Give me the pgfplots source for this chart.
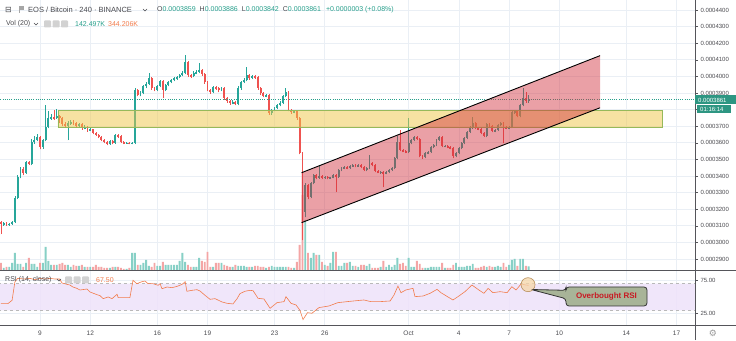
\documentclass[border=0pt]{standalone}
\usepackage{pgfplots}
\pgfplotsset{compat=1.18}
\usepackage{pgfplotstable}
\usepackage{fontspec}
\setmainfont{Liberation Sans}
\newfontfamily\dejavu{DejaVu Sans}
\definecolor{upc}{RGB}{38,166,154}
\definecolor{dnc}{RGB}{239,83,80}
\definecolor{vup}{RGB}{135,208,198}
\definecolor{vdn}{RGB}{244,165,165}
\definecolor{gridc}{RGB}{234,239,245}
\definecolor{axc}{RGB}{85,85,90}
\definecolor{txt}{RGB}{75,75,80}
\definecolor{tealt}{RGB}{40,160,140}
\definecolor{orng}{RGB}{242,124,76}
\definecolor{yfill}{RGB}{239,199,71}
\definecolor{yline}{RGB}{150,185,90}
\definecolor{chfill}{RGB}{210,45,58}
\definecolor{rsiband}{RGB}{238,226,250}
\definecolor{callfill}{RGB}{168,180,152}
\definecolor{calltext}{RGB}{200,25,35}
\definecolor{pbox}{RGB}{45,150,130}

\pgfplotstableread{
i o h l c v
0 3125 3130 3050 3108 280
1 3108 3122 3100 3117 80
2 3117 3122 3099 3105 120
3 3105 3117 3100 3111 120
4 3111 3130 3105 3123 280
5 3123 3280 3118 3267 680
6 3267 3405 3260 3394 240
7 3394 3455 3385 3445 240
8 3445 3452 3405 3418 120
9 3418 3492 3412 3484 280
10 3484 3490 3465 3472 480
11 3472 3620 3466 3604 240
12 3604 3640 3595 3616 240
13 3616 3650 3610 3634 120
14 3634 3640 3560 3574 280
15 3574 3622 3565 3616 280
16 3616 3827 3610 3694 920
17 3694 3790 3688 3749 360
18 3749 3775 3740 3755 200
19 3755 3800 3740 3749 200
20 3749 3805 3745 3761 200
21 3761 3770 3720 3749 240
22 3749 3755 3700 3713 280
23 3713 3725 3690 3700 200
24 3700 3730 3616 3719 200
25 3719 3740 3710 3725 120
26 3725 3735 3705 3719 200
27 3719 3725 3690 3700 160
28 3700 3720 3695 3713 160
29 3713 3718 3680 3688 200
30 3688 3705 3682 3694 120
31 3694 3700 3668 3676 120
32 3676 3690 3670 3682 120
33 3682 3686 3650 3658 120
34 3658 3662 3640 3646 200
35 3646 3650 3628 3634 120
36 3634 3638 3610 3616 120
37 3616 3622 3598 3604 80
38 3604 3610 3586 3592 80
39 3592 3616 3588 3610 80
40 3610 3614 3590 3598 120
41 3598 3652 3594 3646 120
42 3646 3655 3630 3640 120
43 3640 3645 3598 3604 80
44 3604 3610 3592 3598 40
45 3598 3605 3594 3600 40
46 3600 3604 3590 3594 80
47 3594 3604 3590 3598 680
48 3598 3930 3592 3917 680
49 3917 3925 3880 3887 200
50 3887 3910 3880 3899 200
51 3899 3950 3893 3941 280
52 3941 3965 3930 3953 400
53 3953 4020 3947 3989 160
54 3989 3995 3920 3929 120
55 3929 3935 3910 3917 280
56 3917 3950 3911 3941 160
57 3941 3980 3935 3971 160
58 3971 3977 3869 3917 320
59 3917 3955 3911 3947 200
60 3947 3975 3940 3965 200
61 3965 3985 3959 3977 200
62 3977 3995 3971 3989 200
63 3989 4005 3980 3995 200
64 3995 4015 3989 4008 360
65 4008 4030 4000 4020 680
66 4020 4128 4014 4086 320
67 4086 4092 3995 4008 200
68 4008 4015 3990 4002 120
69 4002 4030 3995 4020 120
70 4020 4040 4014 4026 120
71 4026 4080 4020 4038 480
72 4038 4045 4005 4014 360
73 4014 4020 3955 3965 320
74 3965 3970 3910 3917 720
75 3917 3925 3895 3905 120
76 3905 3945 3899 3935 120
77 3935 3940 3920 3929 280
78 3929 3935 3905 3917 280
79 3917 3938 3911 3929 280
80 3929 3935 3860 3869 200
81 3869 3875 3840 3851 160
82 3851 3857 3830 3839 120
83 3839 3855 3833 3845 120
84 3845 3850 3827 3833 200
85 3833 3940 3827 3929 160
86 3929 3975 3920 3965 160
87 3965 3990 3959 3977 160
88 3977 4056 3970 4008 120
89 4008 4015 3980 3989 120
90 3989 4010 3983 4002 120
91 4002 4008 3985 3995 160
92 3995 4000 3920 3929 160
93 3929 3935 3890 3899 120
94 3899 3905 3875 3881 120
95 3881 3895 3875 3887 80
96 3887 3892 3770 3779 120
97 3779 3805 3770 3797 160
98 3797 3815 3790 3809 120
99 3809 3835 3803 3827 120
100 3827 3850 3820 3839 120
101 3839 3890 3833 3881 120
102 3881 3929 3875 3905 120
103 3905 3911 3790 3797 120
104 3797 3803 3775 3784 80
105 3784 3797 3779 3791 80
106 3791 3795 3740 3749 320
107 3749 3755 3530 3538 1000
108 3538 3545 3014 3183 3000
109 3183 3360 3150 3345 2000
110 3345 3350 3260 3273 680
111 3273 3365 3265 3357 480
112 3357 3415 3350 3406 680
113 3406 3412 3380 3388 600
114 3388 3466 3382 3400 600
115 3400 3405 3380 3388 320
116 3388 3400 3384 3394 200
117 3394 3398 3380 3388 160
118 3388 3396 3382 3390 280
119 3390 3412 3385 3406 720
120 3406 3410 3303 3394 720
121 3394 3442 3388 3436 160
122 3436 3455 3430 3448 160
123 3448 3462 3442 3454 280
124 3454 3460 3440 3448 280
125 3448 3468 3442 3460 320
126 3460 3475 3455 3466 160
127 3466 3472 3452 3460 160
128 3460 3472 3455 3466 120
129 3466 3470 3448 3454 200
130 3454 3458 3430 3436 200
131 3436 3455 3430 3448 160
132 3448 3526 3442 3478 240
133 3478 3484 3458 3466 80
134 3466 3470 3424 3430 80
135 3430 3436 3418 3424 80
136 3424 3430 3415 3424 120
137 3424 3428 3333 3418 360
138 3418 3430 3410 3424 120
139 3424 3442 3418 3436 200
140 3436 3455 3430 3448 120
141 3448 3515 3442 3508 200
142 3508 3640 3500 3604 480
143 3604 3676 3550 3556 240
144 3556 3562 3544 3550 280
145 3550 3556 3538 3544 160
146 3544 3749 3538 3598 480
147 3598 3625 3590 3616 120
148 3616 3642 3610 3634 120
149 3634 3640 3615 3622 360
150 3622 3628 3512 3520 240
151 3520 3526 3505 3514 80
152 3514 3545 3508 3538 80
153 3538 3550 3532 3544 80
154 3544 3580 3538 3574 120
155 3574 3592 3568 3586 120
156 3586 3622 3580 3616 120
157 3616 3642 3610 3634 120
158 3634 3640 3574 3580 280
159 3580 3588 3572 3580 80
160 3580 3584 3568 3574 80
161 3574 3578 3560 3568 80
162 3568 3572 3508 3520 200
163 3520 3545 3514 3538 280
164 3538 3575 3532 3568 120
165 3568 3604 3562 3598 120
166 3598 3634 3592 3628 120
167 3628 3670 3622 3664 160
168 3664 3700 3658 3688 160
169 3688 3755 3682 3719 240
170 3719 3725 3682 3688 80
171 3688 3694 3676 3682 80
172 3682 3688 3652 3658 120
173 3658 3664 3634 3640 160
174 3640 3720 3634 3713 120
175 3713 3719 3694 3700 160
176 3700 3705 3664 3670 120
177 3670 3685 3664 3676 120
178 3676 3713 3670 3707 160
179 3707 3725 3700 3719 120
180 3719 3725 3598 3694 280
181 3694 3700 3682 3688 120
182 3688 3700 3682 3694 200
183 3694 3790 3688 3784 400
184 3784 3800 3775 3791 440
185 3791 3797 3755 3761 160
186 3761 3833 3755 3827 440
187 3827 3929 3821 3869 440
188 3869 3905 3842 3851 160
189 3859 3886 3842 3861 142
}\candles

\pgfplotsset{
  common/.style={anchor=south west, scale only axis, width=695pt,
    xmin=-0.33, xmax=248.6, clip=true},
  pricey/.style={ymin=2833.7, ymax=4460.2},
  nomark/.style={only marks, mark=*, mark size=0pt, mark options={draw=none, fill=none}},
}

\begin{document}
\begin{tikzpicture}
\useasboundingbox (0pt,0pt) rectangle (736pt,340pt);
\fill[white] (0pt,0pt) rectangle (736pt,340pt);

% ---------- price grid + right scale ----------
\begin{axis}[common, pricey, at={(0pt,70pt)}, height=270pt,
  axis line style={draw=none}, axis x line*=bottom, axis y line*=right,
  xtick={14,32,56,74,98,116,146,164,182,200,224,242}, xticklabels={},
  major x tick style={draw=none},
  ytick={2900,3000,3100,3200,3300,3400,3500,3600,3700,3800,3900,4000,4100,4200,4300,4400},
  yticklabels={0.0002900,0.0003000,0.0003100,0.0003200,0.0003300,0.0003400,0.0003500,0.0003600,0.0003700,{},0.0003900,0.0004000,0.0004100,0.0004200,0.0004300,0.0004400},
  grid=major, grid style={gridc, line width=0.6pt},
  tick align=outside, major tick length=3pt,
  major y tick style={axc, line width=0.5pt},
  yticklabel style={font=\fontsize{6}{7}\selectfont, text=txt, xshift=-1pt},
]
\end{axis}

% ---------- volume ----------
\begin{axis}[common, at={(0pt,70pt)}, height=270pt, hide axis,
  ymin=0, ymax=10800]
\addplot[ybar, bar width=1.9pt, bar shift=0pt, fill=vup, draw=none,
  restrict expr to domain={\thisrow{c}-\thisrow{o}}{0:100000}]
  table[x=i, y=v] {\candles};
\addplot[ybar, bar width=1.9pt, bar shift=0pt, fill=vdn, draw=none,
  restrict expr to domain={\thisrow{c}-\thisrow{o}}{-100000:-0.5}]
  table[x=i, y=v] {\candles};
\end{axis}

% ---------- candles + drawings ----------
\begin{axis}[common, pricey, at={(0pt,70pt)}, height=270pt, hide axis]
% wicks
\addplot[nomark,
  restrict expr to domain={\thisrow{c}-\thisrow{o}}{0:100000},
  error bars/.cd, y dir=plus, y explicit,
  error bar style={upc, line width=0.55pt}, error mark=none]
  table[x=i, y=l, y error plus expr={\thisrow{h}-\thisrow{l}}] {\candles};
\addplot[nomark,
  restrict expr to domain={\thisrow{c}-\thisrow{o}}{-100000:-0.5},
  error bars/.cd, y dir=plus, y explicit,
  error bar style={dnc, line width=0.55pt}, error mark=none]
  table[x=i, y=l, y error plus expr={\thisrow{h}-\thisrow{l}}] {\candles};
% bodies
\addplot[nomark,
  restrict expr to domain={\thisrow{c}-\thisrow{o}}{0:100000},
  error bars/.cd, y dir=both, y explicit,
  error bar style={upc, line width=1.9pt}, error mark=none]
  table[x=i, y expr={(\thisrow{o}+\thisrow{c})/2},
        y error expr={max(abs(\thisrow{c}-\thisrow{o})/2,2)}] {\candles};
\addplot[nomark,
  restrict expr to domain={\thisrow{c}-\thisrow{o}}{-100000:-0.5},
  error bars/.cd, y dir=both, y explicit,
  error bar style={dnc, line width=1.9pt}, error mark=none]
  table[x=i, y expr={(\thisrow{o}+\thisrow{c})/2},
        y error expr={max(abs(\thisrow{c}-\thisrow{o})/2,2)}] {\candles};
% current price line
\addplot[tealt, line width=0.5pt, dash pattern=on 1pt off 1.2pt]
  coordinates {(-1,3861) (250,3861)};
% support zone
\addplot[fill=yfill, fill opacity=0.5, draw=yline, line width=0.7pt]
  coordinates {(20.44,3793) (236.8,3793) (236.8,3693) (20.44,3693) (20.44,3793)};
% channel
\addplot[fill=chfill, fill opacity=0.45, draw=none]
  coordinates {(107.7,3420) (214.6,4125) (214.6,3811) (107.7,3119) (107.7,3420)};
\addplot[black, line width=0.9pt] coordinates {(107.7,3420) (214.6,4125)};
\addplot[black, line width=0.9pt] coordinates {(107.7,3119) (214.6,3811)};
\end{axis}

% ---------- RSI ----------
\begin{axis}[common, at={(0pt,14.7pt)}, height=55.3pt,
  ymin=7.4, ymax=90.6,
  axis line style={draw=none}, axis x line*=bottom, axis y line*=right,
  xtick={14,32,56,74,98,116,146,164,182,200,224,242},
  xticklabels={9,12,16,19,23,26,Oct,4,7,10,14,17},
  ytick={25,75}, yticklabels={25.00,75.00},
  grid=major, grid style={gridc, line width=0.6pt},
  major x tick style={draw=none},
  tick align=outside, major tick length=3pt,
  major y tick style={axc, line width=0.5pt},
  xticklabel style={font=\fontsize{6.5}{7}\selectfont, text=txt, anchor=center, yshift=-5pt},
  yticklabel style={font=\fontsize{6}{7}\selectfont, text=txt, xshift=-1pt},
]
\addplot[fill=rsiband, fill opacity=0.85, draw=none]
  coordinates {(-1,30) (250,30) (250,70) (-1,70) (-1,30)};
\addplot[gray!55, dashed, line width=0.5pt] coordinates {(-1,70) (250,70)};
\addplot[gray!55, dashed, line width=0.5pt] coordinates {(-1,30) (250,30)};
\addplot[orng, line width=0.6pt] coordinates {
(0,40) (2.5,40) (4,45) (5,72.6) (6,78) (8.3,77) (10.4,78) (12.2,76) (14,78)
(15.8,77) (17.6,78) (19.4,77) (21,77) (21.9,71) (23.7,69) (24.7,68) (25.8,65)
(27.2,63) (28.3,60.5) (30.8,62) (31.9,57.5) (34.4,53.5) (35.5,52) (36.6,47.5)
(38.4,50) (39.8,47.5) (41.6,54) (42,49) (43.7,49) (46.2,49) (47.3,75) (48.7,70)
(50.5,73) (51.6,74) (52.7,70) (54.5,70) (56.3,67.6) (57,70) (57.7,62.5) (59.5,65)
(61.3,64) (63.1,66) (64.9,69) (66,73) (66.6,58.6) (68.4,60) (70.2,61) (71.3,59)
(73.1,52.5) (74.9,46.5) (76.7,47.5) (79.2,42.5) (81,40.5) (83.1,39.5) (84.6,47.5)
(85.6,55) (87.4,58.6) (89.2,60) (90.3,59.5) (92.1,48) (94.2,47) (96.4,33)
(98.9,41.5) (101.4,43) (102.1,50.5) (103.9,40.5) (105.7,38) (107.1,30) (108.2,16)
(109.8,26.4) (111.4,25.5) (113.9,34) (117.5,36.5) (120.7,41.5) (124,43) (127.5,44.5)
(130,45.5) (132.5,43) (135.8,43) (139.4,44) (140.8,53) (142.2,66.5) (143.3,56.5)
(145,60.5) (147.6,63) (148.3,50.5) (151.2,51.5) (153.7,55.5) (156.2,61.5)
(157.6,56.5) (161.9,45.5) (163.7,50.5) (166.2,58) (168.7,68) (171.2,60.5)
(173,55.5) (174.5,63) (176.2,56.5) (178.8,58) (181.3,56.5) (183,65.5) (184.5,60.5)
(186.3,69.5) (188,68) (189,67.5)};
\draw[draw={rgb,255:red,185;green,145;blue,95}, fill={rgb,255:red,246;green,214;blue,168}, fill opacity=0.75, line width=0.6pt]
  (axis cs:188.8,68.5) circle[radius=7pt];
\end{axis}

% ---------- separators ----------
\draw[axc, line width=0.8pt] (0pt,70pt) -- (736pt,70pt);
\draw[axc, line width=0.8pt] (0pt,14.7pt) -- (736pt,14.7pt);
\draw[axc, line width=0.8pt] (695pt,0pt) -- (695pt,340pt);

% ---------- current price labels ----------
\fill[pbox] (695pt,235.5pt) rectangle (736pt,244.5pt);
\node[anchor=west, inner sep=0pt, text=white, font=\fontsize{6}{7}\selectfont] at (698pt,240pt) {0.0003861};
\fill[pbox] (697pt,226.5pt) rectangle (731pt,235pt);
\node[anchor=west, inner sep=0pt, text=white, font=\fontsize{6}{7}\selectfont] at (700pt,230.8pt) {01:16:14};

% ---------- header ----------
\node[anchor=west, inner sep=0pt, text=txt, font=\dejavu\fontsize{8}{9}\selectfont] at (5pt,330pt) {⊟};
\fill[gray!70] (19pt,327pt) rectangle (20pt,334pt);
\fill[gray!70] (20pt,330pt) rectangle (24pt,334pt);
\node[anchor=west, inner sep=0pt, text=txt, font=\fontsize{7.5}{9}\selectfont] at (28pt,330pt) {EOS / Bitcoin · 240 · BINANCE};
\draw[txt, line width=0.5pt] (143pt,331pt) -- (145pt,329pt) -- (147pt,331pt);
\node[anchor=west, inner sep=0pt, text=txt, font=\fontsize{7}{8}\selectfont] at (157pt,330pt)
  {O\textcolor{tealt}{0.0003859}\hspace{4pt}H\textcolor{tealt}{0.0003886}\hspace{4pt}L\textcolor{tealt}{0.0003842}\hspace{4pt}C\textcolor{tealt}{0.0003861}\hspace{5pt}\textcolor{tealt}{+0.0000003 (+0.08\%)}};

\node[anchor=west, inner sep=0pt, text=txt, font=\fontsize{7}{8}\selectfont] at (6pt,316pt) {Vol (20)};
\draw[txt, line width=0.5pt] (34pt,317pt) -- (36pt,315pt) -- (38pt,317pt);
\foreach \xx in {44,52.5,61} {\fill[gray!35, rounded corners=0.8pt] (\xx pt,312.5pt) rectangle ++(7pt,7pt);}
\node[anchor=west, inner sep=0pt, text=tealt, font=\fontsize{7}{8}\selectfont] at (75pt,316pt) {142.497K};
\node[anchor=west, inner sep=0pt, text=orng, font=\fontsize{7}{8}\selectfont] at (108pt,316pt) {344.206K};

\node[anchor=west, inner sep=0pt, text=txt, font=\fontsize{7}{8}\selectfont] at (5pt,60pt) {RSI (14, close)};
\draw[txt, line width=0.5pt] (57pt,61pt) -- (59pt,59pt) -- (61pt,61pt);
\foreach \xx in {65,73.5,82} {\fill[gray!35, rounded corners=0.8pt] (\xx pt,56.5pt) rectangle ++(7pt,7pt);}
\node[anchor=west, inner sep=0pt, text=orng, font=\fontsize{7}{8}\selectfont] at (96pt,60pt) {67.50};

% gear
\node[text=gray!80, inner sep=0pt, font=\dejavu\fontsize{9}{9}\selectfont] at (713pt,7pt) {⚙};

% ---------- callout ----------
\draw[black!80, line width=0.8pt, fill=callfill, rounded corners=3pt]
  (566pt,53pt) -- (647pt,53pt) -- (647pt,34pt) -- (566pt,34pt) -- (566pt,41.3pt)
  -- (531pt,50.5pt) -- (566pt,49.7pt) -- cycle;
\node[text=calltext, font=\bfseries\fontsize{8}{9}\selectfont, inner sep=0pt] at (606.5pt,43.5pt) {Overbought RSI};
\end{tikzpicture}
\end{document}
